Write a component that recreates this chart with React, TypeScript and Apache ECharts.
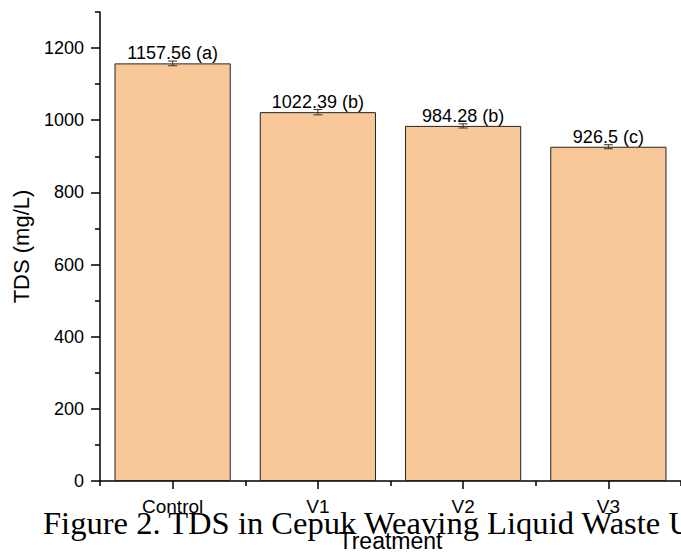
import React, { useEffect, useRef } from "react";
import * as echarts from "echarts";

const categories = ["Control", "V1", "V2", "V3"];
const tdsValues = [1157.56, 1022.39, 984.28, 926.5];
const tdsErrors = [6.5, 7.4, 5.8, 5.6];
const groupLetters = ["a", "b", "b", "c"];
const majorTicks = [0, 200, 400, 600, 800, 1000, 1200];
const minorTicks = [100, 300, 500, 700, 900, 1100, 1300];
const yTitle = "TDS (mg/L)";
const xTitle = "Treatment";
const captionText = "Figure 2. TDS in Cepuk Weaving Liquid Waste U";

const SANS = '"Liberation Sans", Arial, sans-serif';

export default function App() {
  const ref = useRef<HTMLDivElement>(null);
  useEffect(() => {
    if (!ref.current) return;
    const chart = echarts.init(ref.current, null, { renderer: "svg" });
    const errData = tdsValues.map((v, i) => [i, v - tdsErrors[i], v + tdsErrors[i]]);
    chart.setOption({
      animation: false,
      backgroundColor: "#fff",
      grid: { left: 100, right: -7, top: 12, bottom: 72, containLabel: false },
      xAxis: [
        {
          type: "category",
          data: categories,
          position: "bottom",
          name: xTitle,
          nameLocation: "middle",
          nameGap: 48,
          nameTextStyle: { fontFamily: SANS, fontSize: 23, color: "#000" },
          axisLine: { show: true, lineStyle: { color: "#000", width: 1.5 } },
          axisTick: { show: true, alignWithLabel: true, length: 8, lineStyle: { color: "#000", width: 1.5 } },
          axisLabel: { fontFamily: SANS, fontSize: 19, color: "#000", margin: 16 },
          splitLine: { show: false },
        },
        {
          type: "category",
          data: categories,
          position: "bottom",
          axisLine: { show: false },
          axisTick: { show: true, alignWithLabel: false, length: 5, lineStyle: { color: "#000", width: 1.5 } },
          axisLabel: { show: false },
          splitLine: { show: false },
        },
      ],
      yAxis: [
        {
          type: "value",
          min: 0,
          max: 1300,
          position: "left",
          name: yTitle,
          nameLocation: "middle",
          nameGap: 68,
          nameRotate: 90,
          nameTextStyle: { fontFamily: SANS, fontSize: 22, color: "#000" },
          axisLine: { show: true, lineStyle: { color: "#000", width: 1.5 } },
          axisTick: { show: true, length: 9, customValues: majorTicks, lineStyle: { color: "#000", width: 1.5 } },
          axisLabel: {
            fontFamily: SANS,
            fontSize: 18,
            color: "#000",
            margin: 16,
            customValues: majorTicks,
            formatter: (v: number) => String(v),
          },
          splitLine: { show: false },
        },
        {
          type: "value",
          min: 0,
          max: 1300,
          position: "left",
          axisLine: { show: false },
          axisTick: { show: true, length: 5, customValues: minorTicks, lineStyle: { color: "#000", width: 1.5 } },
          axisLabel: { show: false },
          splitLine: { show: false },
        },
      ],
      series: [
        {
          type: "bar",
          data: tdsValues,
          xAxisIndex: 0,
          yAxisIndex: 0,
          barCategoryGap: "20%",
          itemStyle: { color: "#F9C898", borderColor: "#222", borderWidth: 1 },
          label: {
            show: true,
            position: "top",
            distance: 1,
            fontFamily: SANS,
            fontSize: 18,
            color: "#000",
            formatter: (p: any) => `${tdsValues[p.dataIndex]} (${groupLetters[p.dataIndex]})`,
          },
          z: 2,
        },
        {
          type: "custom",
          xAxisIndex: 0,
          yAxisIndex: 0,
          data: errData,
          z: 3,
          renderItem: (params: any, api: any) => {
            const i = api.value(0);
            const lo = api.coord([i, api.value(1)]);
            const hi = api.coord([i, api.value(2)]);
            const hw = 4.5;
            const st = { stroke: "#333", lineWidth: 1 };
            return {
              type: "group",
              children: [
                { type: "line", shape: { x1: lo[0], y1: lo[1], x2: hi[0], y2: hi[1] }, style: st },
                { type: "line", shape: { x1: hi[0] - hw, y1: hi[1], x2: hi[0] + hw, y2: hi[1] }, style: st },
                { type: "line", shape: { x1: lo[0] - hw, y1: lo[1], x2: lo[0] + hw, y2: lo[1] }, style: st },
              ],
            };
          },
        },
      ],
      graphic: [
        {
          type: "text",
          x: 43,
          y: 523,
          z: 100,
          style: {
            text: captionText,
            font: '32.6px "Liberation Serif", "Times New Roman", serif',
            fill: "#000",
            verticalAlign: "middle",
            align: "left",
          },
        },
      ],
    });
    return () => chart.dispose();
  }, []);
  return (
    <div
      ref={ref}
      style={{ position: "absolute", left: 0, top: 0, width: 681, height: 557, overflow: "hidden" }}
    />
  );
}
